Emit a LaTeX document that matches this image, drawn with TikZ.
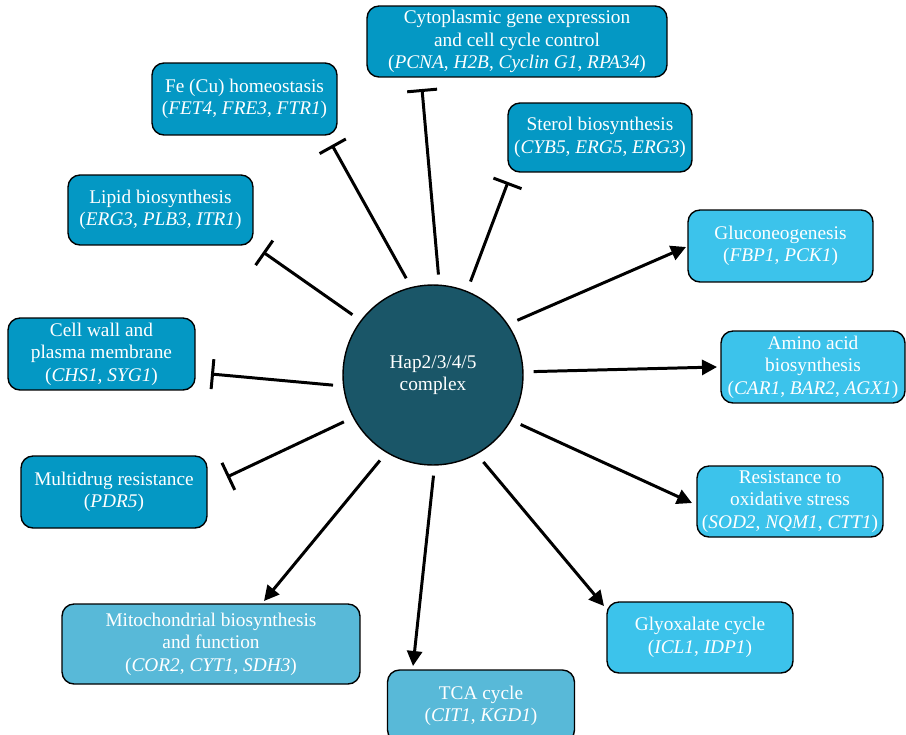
\documentclass[tikz,border=0pt]{standalone}
\usepackage{fontspec}
\setmainfont{Liberation Serif}
\usepackage{tikz}
\usetikzlibrary{arrows.meta}

\definecolor{darkbox}{RGB}{4,152,196}
\definecolor{lightbox}{RGB}{60,195,235}
\definecolor{paleblue}{RGB}{88,185,216}
\definecolor{hubcol}{RGB}{26,86,104}

\begin{document}
\begin{tikzpicture}[x=0.02cm,y=-0.02cm]
  \tikzstyle{box}=[rectangle,rounded corners=0.24cm,draw,line width=0.8pt,text=white,align=center,
    inner sep=0pt,font=\fontsize{11}{12.8}\selectfont]
  \tikzstyle{inhibit}=[line width=1.7pt,-{Bar[width=0.6cm]},shorten <=0.2cm]
  \tikzstyle{induce}=[line width=1.7pt,-{Triangle[length=0.3cm,width=0.3cm]},shorten <=0.2cm]
  \useasboundingbox (0,0) rectangle (906,734);

  \node [circle,draw,line width=0.8pt,fill=hubcol,text=white,minimum size=3.6cm,align=center,
    font=\fontsize{11}{12.8}\selectfont] (hub) at (433,375) {Hap2/3/4/5\\complex};

  \node [box,fill=darkbox,minimum width=6cm,minimum height=1.42cm] (cyto) at (517,41.5)
    {Cytoplasmic gene expression\\and cell cycle control\\(\textit{PCNA}, \textit{H2B}, \textit{Cyclin G1}, \textit{RPA34})};
  \node [box,fill=darkbox,minimum width=3.7cm,minimum height=1.44cm] (iron) at (244.5,99)
    {Fe (Cu) homeostasis\\(\textit{FET4}, \textit{FRE3}, \textit{FTR1})};
  \node [box,fill=darkbox,minimum width=3.68cm,minimum height=1.38cm] (sterol) at (600,137.5)
    {Sterol biosynthesis\\(\textit{CYB5}, \textit{ERG5}, \textit{ERG3})};
  \node [box,fill=darkbox,minimum width=3.7cm,minimum height=1.4cm] (lipid) at (160.5,210)
    {Lipid biosynthesis\\(\textit{ERG3}, \textit{PLB3}, \textit{ITR1})};
  \node [box,fill=darkbox,minimum width=3.74cm,minimum height=1.44cm] (wall) at (101.5,354)
    {Cell wall and\\plasma membrane\\(\textit{CHS1}, \textit{SYG1})};
  \node [box,fill=darkbox,minimum width=3.72cm,minimum height=1.44cm] (drug) at (114,492)
    {Multidrug resistance\\(\textit{PDR5})};

  \node [box,fill=lightbox,minimum width=3.7cm,minimum height=1.44cm] (gluco) at (780.5,246)
    {Gluconeogenesis\\(\textit{FBP1}, \textit{PCK1})};
  \node [box,fill=lightbox,minimum width=3.68cm,minimum height=1.44cm] (amino) at (813,367)
    {Amino acid\\biosynthesis\\(\textit{CAR1}, \textit{BAR2}, \textit{AGX1})};
  \node [box,fill=lightbox,minimum width=3.72cm,minimum height=1.42cm] (oxid) at (790,501.5)
    {Resistance to\\oxidative stress\\(\textit{SOD2}, \textit{NQM1}, \textit{CTT1})};
  \node [box,fill=lightbox,minimum width=3.72cm,minimum height=1.42cm] (glyox) at (700,637.5)
    {Glyoxalate cycle\\(\textit{ICL1}, \textit{IDP1})};
  \node [box,fill=paleblue,minimum width=5.96cm,minimum height=1.6cm] (mito) at (211,644)
    {Mitochondrial biosynthesis\\and function\\(\textit{COR2}, \textit{CYT1}, \textit{SDH3})};
  \node [box,fill=paleblue,minimum width=3.74cm,minimum height=1.44cm] (tca) at (481,706)
    {TCA cycle\\(\textit{CIT1}, \textit{KGD1})};

  % ends of the connectors, just short of the boxes
  \coordinate (cytoE)   at (422,89);
  \coordinate (ironE)   at (332,145);
  \coordinate (sterolE) at (508,182);
  \coordinate (lipidE)  at (263,252);
  \coordinate (wallE)   at (211,374);
  \coordinate (drugE)   at (227,477);
  \coordinate (glucoE)  at (686,247);
  \coordinate (aminoE)  at (717,367);
  \coordinate (oxidE)   at (692,503);
  \coordinate (glyoxE)  at (604,606);
  \coordinate (tcaE)    at (413,666);
  \coordinate (mitoE)   at (264,601);

  \draw [inhibit] (hub.86)    to (cytoE);
  \draw [inhibit] (hub.104)   to (ironE);
  \draw [inhibit] (hub.68.6)  to (sterolE);
  \draw [inhibit] (hub.143.2) to (lipidE);
  \draw [inhibit] (hub.187)   to (wallE);
  \draw [inhibit] (hub.208.8) to (drugE);
  \draw [induce]  (hub.34.5)  to (glucoE);
  \draw [induce]  (hub.2.3)   to (aminoE);
  \draw [induce]  (hub.-30.8) to (oxidE);
  \draw [induce]  (hub.-61.4) to (glyoxE);
  \draw [induce]  (hub.-89.4) to (tcaE);
  \draw [induce]  (hub.-121)  to (mitoE);
\end{tikzpicture}
\end{document}
